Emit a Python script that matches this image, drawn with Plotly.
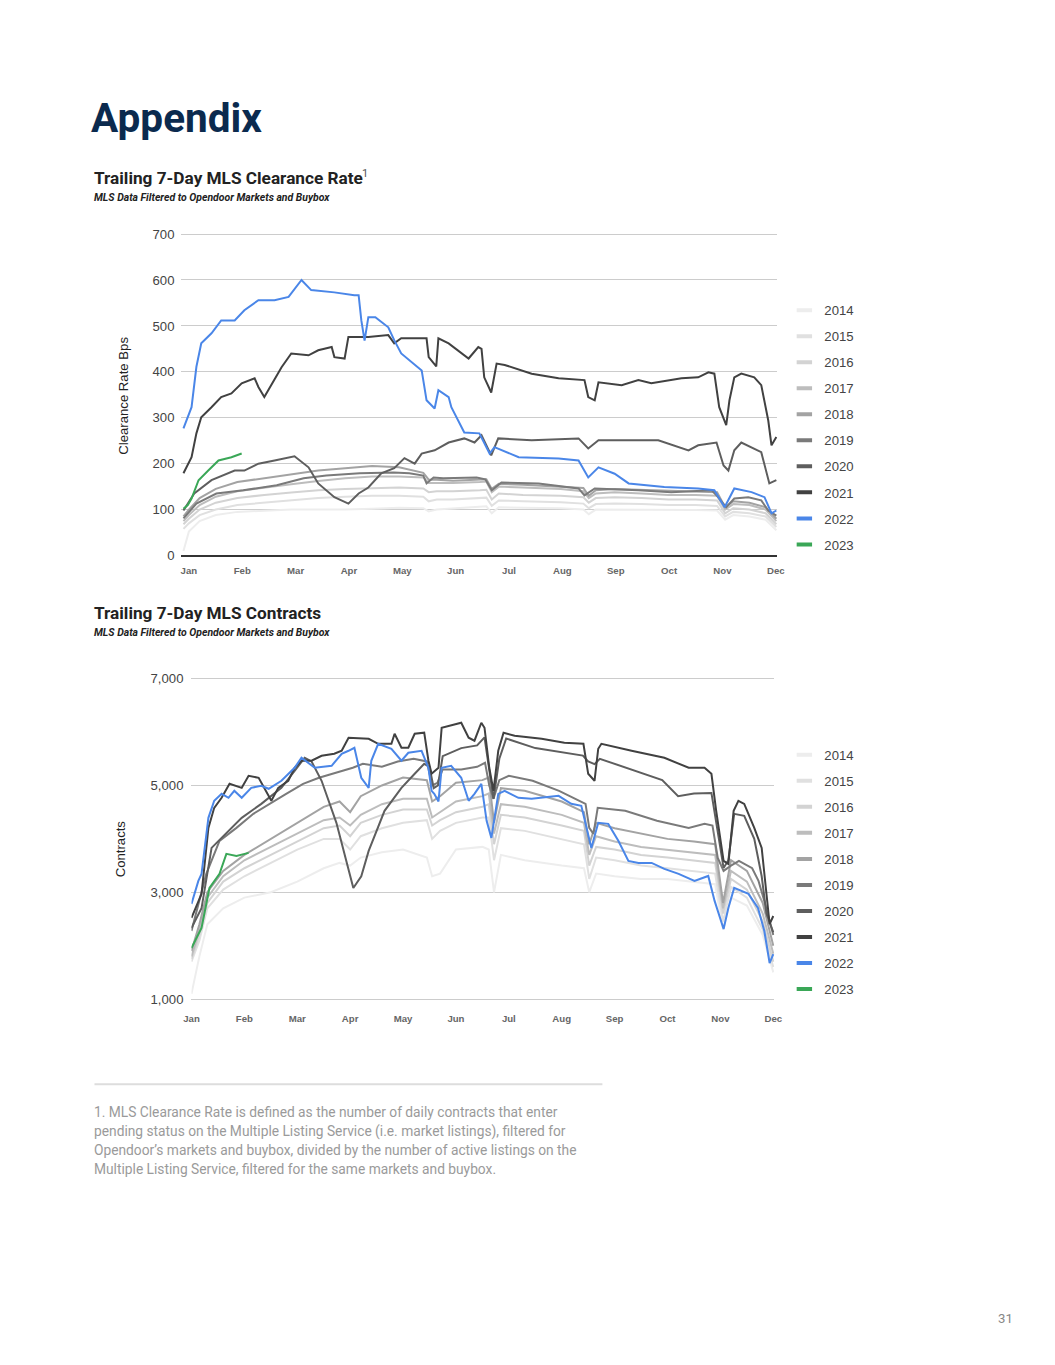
import plotly.graph_objects as go

W, H = 1055, 1365

YEARS = ["2014", "2015", "2016", "2017", "2018", "2019", "2020", "2021", "2022", "2023"]
COLORS = ["#ededed", "#e0e0e0", "#d3d3d3", "#bdbdbd", "#a3a3a3",
          "#7a7a7a", "#5e5e5e", "#414141", "#4a86e8", "#3aa757"]
MONTHS = ["Jan", "Feb", "Mar", "Apr", "May", "Jun", "Jul", "Aug", "Sep", "Oct", "Nov", "Dec"]

# ---------------- Clearance rate (bps), x = months since Jan 1 ----------------
CR_GREY_X = [0, 0.1, 0.3, 0.6, 1.0, 1.5, 2.0, 2.5, 3.0, 3.5, 4.0, 4.45, 4.55, 4.7, 5.0, 5.5, 5.62,
             5.72, 5.85, 6.3, 7.0, 7.42, 7.52, 7.65, 8.0, 8.5, 9.0, 9.5, 9.9, 10.05, 10.2, 10.5, 10.8, 11.0]
CR_2014 = [10, 52, 75, 88, 95, 98, 100, 100, 100, 102, 104, 103, 96, 100, 102, 106, 107,
           92, 105, 104, 103, 100, 90, 100, 100, 100, 99, 99, 98, 78, 88, 85, 78, 55]
CR_2015 = [58, 70, 88, 100, 110, 115, 120, 125, 128, 130, 130, 128, 118, 122, 122, 125, 126,
           108, 120, 118, 116, 113, 103, 112, 113, 112, 110, 110, 108, 85, 95, 92, 85, 62]
CR_2016 = [68, 80, 100, 115, 125, 132, 137, 142, 145, 147, 148, 146, 138, 140, 140, 142, 143,
           122, 135, 132, 130, 127, 115, 125, 127, 125, 122, 122, 120, 92, 103, 100, 92, 68]
CR_2017 = [75, 88, 110, 128, 140, 148, 155, 162, 168, 172, 172, 170, 158, 158, 158, 160, 161,
           138, 150, 148, 145, 140, 125, 135, 138, 135, 132, 132, 130, 100, 112, 110, 100, 75]
CR_2018 = [85, 100, 125, 145, 160, 168, 176, 185, 190, 195, 192, 180, 165, 165, 163, 165, 166,
           145, 156, 154, 150, 147, 130, 142, 145, 143, 141, 140, 138, 105, 118, 115, 105, 80]

CR_2019_X = [0, 0.24, 0.61, 1.11, 1.73, 2.23, 2.65, 3.27, 3.90, 4.19, 4.45, 4.51, 4.64, 4.82, 5.44, 5.6,
             5.72, 5.90, 6.59, 7.33, 7.44, 7.63, 8.44, 9.05, 9.80, 9.92, 10.07, 10.22, 10.48, 10.72, 10.85, 11.0]
CR_2019 = [81, 113, 135, 142, 153, 168, 174, 179, 181, 179, 174, 157, 170, 168, 170, 166,
           142, 159, 157, 146, 131, 146, 142, 138, 142, 127, 105, 124, 127, 120, 98, 87]

CR_2020_X = [0, 0.2, 0.52, 0.95, 1.13, 1.39, 1.69, 2.06, 2.32, 2.50, 2.80, 3.06, 3.25, 3.43, 3.67,
             3.91, 4.10, 4.29, 4.42, 4.66, 4.92, 5.21, 5.40, 5.53, 5.71, 5.84, 6.46, 7.33, 7.51, 7.70,
             8.81, 9.37, 9.55, 9.89, 10.02, 10.11, 10.22, 10.35, 10.72, 10.87, 11.0]
CR_2020 = [98, 135, 164, 185, 185, 200, 207, 216, 192, 157, 127, 113, 135, 148, 179,
           190, 212, 200, 222, 229, 246, 255, 246, 262, 218, 255, 251, 255, 233, 251,
           251, 229, 240, 246, 196, 185, 229, 246, 225, 157, 164]

CR_2021_X = [0, .15, .24, .33, .52, .70, .89, 1.08, 1.32, 1.39, 1.50, 1.69, 1.82, 2.00, 2.32,
             2.50, 2.75, 2.80, 2.99, 3.06, 3.43, 3.80, 3.91, 4.04, 4.51, 4.55, 4.69, 4.73, 4.92, 5.29,
             5.47, 5.53, 5.58, 5.71, 5.81, 5.96, 6.46, 6.96, 7.44, 7.51, 7.63, 7.70, 8.13, 8.44, 8.68,
             9.24, 9.55, 9.74, 9.85, 9.94, 10.07, 10.13, 10.22, 10.35, 10.59, 10.72, 10.85, 10.91, 11.0]
CR_2021 = [179, 214, 266, 301, 323, 345, 353, 375, 386, 367, 345, 382, 410, 440, 436,
           447, 454, 432, 429, 476, 476, 480, 462, 473, 473, 432, 412, 473, 462, 429,
           454, 450, 388, 355, 418, 415, 396, 386, 382, 345, 338, 377, 371, 382, 375,
           386, 388, 399, 396, 323, 284, 338, 388, 396, 388, 371, 294, 240, 258]

CR_2022_X = [0, .15, .24, .33, .52, .70, .95, 1.13, 1.39, 1.69, 1.95, 2.19, 2.37, 2.80, 3.17,
             3.25, 3.30, 3.36, 3.43, 3.56, 3.80, 3.91, 4.04, 4.42, 4.51, 4.66, 4.73, 4.92, 4.97, 5.21,
             5.49, 5.68, 5.77, 6.22, 6.96, 7.33, 7.51, 7.70, 8.00, 8.26, 8.92, 9.55, 9.85, 10.04, 10.22,
             10.54, 10.78, 10.91, 11.0]
CR_2022 = [277, 323, 411, 462, 484, 512, 512, 534, 556, 556, 563, 600, 578, 573, 567,
           567, 512, 468, 519, 519, 497, 469, 440, 403, 338, 320, 360, 345, 323, 268,
           266, 222, 236, 214, 211, 207, 170, 192, 178, 157, 149, 146, 142, 105, 146,
           138, 127, 92, 98]

CR_2023_X = [0, 0.08, 0.15, 0.28, 0.46, 0.65, 0.89, 1.08]
CR_2023 = [102, 110, 124, 164, 185, 207, 214, 222]

# ---------------- Contracts, x = months since Jan 1 ----------------
CT_GREY_X = [0, 0.15, 0.3, 0.6, 1.0, 1.5, 2.0, 2.5, 2.8, 3.0, 3.2, 3.6, 4.0, 4.45, 4.55, 4.7, 5.0,
             5.5, 5.62, 5.72, 5.85, 6.3, 7.0, 7.42, 7.52, 7.65, 8.0, 8.5, 9.0, 9.5, 9.9, 10.05,
             10.2, 10.5, 10.8, 11.0]
CT_2014 = [1100, 1800, 2400, 2700, 2900, 3000, 3200, 3450, 3550, 3500, 3650, 3750, 3800, 3650, 3300,
           3350, 3800, 3850, 3800, 3000, 3700, 3600, 3500, 3450, 3000, 3350, 3300, 3250, 3250, 3200,
           3150, 2300, 2900, 2750, 2200, 1500]
CT_2015 = [1700, 2100, 2700, 3050, 3300, 3550, 3800, 4000, 4000, 3800, 4050, 4200, 4300, 4350, 4000,
           4150, 4300, 4400, 4400, 3600, 4200, 4150, 4000, 3900, 3250, 3650, 3600, 3500, 3450, 3400,
           3350, 2450, 3100, 2900, 2300, 1600]
CT_2016 = [1750, 2200, 2800, 3200, 3450, 3700, 3950, 4200, 4250, 4050, 4300, 4450, 4550, 4550, 4250,
           4350, 4500, 4600, 4650, 3900, 4450, 4400, 4250, 4150, 3500, 3850, 3800, 3700, 3650, 3600,
           3550, 2600, 3250, 3050, 2450, 1700]
CT_2017 = [1800, 2300, 2900, 3300, 3600, 3850, 4100, 4350, 4400, 4250, 4450, 4650, 4750, 4750, 4400,
           4500, 4700, 4800, 4850, 4100, 4650, 4600, 4450, 4300, 3700, 4050, 3950, 3850, 3800, 3750,
           3700, 2700, 3400, 3200, 2600, 1850]
CT_2018 = [1900, 2400, 3000, 3400, 3700, 4000, 4300, 4600, 4700, 4500, 4800, 5000, 5150, 5100, 4700,
           4800, 5050, 5100, 5150, 4300, 4950, 4900, 4700, 4500, 3900, 4300, 4200, 4100, 4000, 3950,
           3900, 2800, 3600, 3400, 2800, 2000]

CT_2019_X = [0, 0.28, 0.53, 0.85, 1.17, 1.47, 1.79, 2.11, 2.41, 2.73, 3.05, 3.24, 3.6, 3.9, 4.2,
             4.45, 4.55, 4.65, 4.75, 5.1, 5.4, 5.55, 5.63, 5.71, 5.82, 6.0, 6.45, 6.95, 7.45, 7.52,
             7.6, 7.68, 8.2, 8.8, 9.4, 9.7, 9.85, 9.95, 10.06, 10.2, 10.35, 10.6, 10.72, 10.83, 11.0]
CT_2019 = [2275, 3344, 3963, 4206, 4469, 4656, 4844, 5031, 5144, 5238, 5331, 5406, 5350, 5450, 5500,
           5450, 5000, 5050, 5300, 5300, 5350, 5425, 5000, 4750, 5100, 5181, 5088, 4900, 4656, 4206,
           4094, 4581, 4525, 4338, 4206, 4281, 4250, 3644, 3400, 3500, 3588, 3450, 3213, 2838, 2200]

CT_2020_X = [0, 0.19, 0.38, 0.51, 0.95, 1.32, 1.70, 1.95, 2.14, 2.27, 2.46, 2.74, 3.06, 3.21, 3.35,
             3.65, 3.97, 4.22, 4.40, 4.50, 4.58, 4.66, 4.75, 5.1, 5.4, 5.54, 5.63, 5.71, 5.82, 5.95,
             6.5, 7.0, 7.4, 7.5, 7.62, 7.72, 8.3, 8.9, 9.2, 9.5, 9.83, 9.92, 10.06, 10.15, 10.26,
             10.45, 10.64, 10.78, 10.87, 11.0]
CT_2020 = [2331, 2700, 3831, 3963, 4394, 4656, 4956, 5275, 5519, 5450, 5088, 4300, 3081, 3300, 3775,
           4525, 4956, 5219, 5406, 5350, 4950, 5000, 5550, 5700, 5750, 5900, 5300, 4750, 5500, 5880,
           5700, 5620, 5560, 5450, 5400, 5500, 5300, 5100, 4800, 4850, 4860, 4300, 3456, 3600, 4469,
           4431, 4000, 3300, 2600, 2250]

CT_2021_X = [0, .19, .32, .43, .57, .72, .95, 1.08, 1.27, 1.38, 1.51, 1.64, 1.83, 1.95, 2.08,
             2.27, 2.46, 2.70, 2.84, 2.97, 3.35, 3.53, 3.78, 3.84, 3.97, 4.10, 4.22, 4.40, 4.48, 4.54,
             4.67, 4.73, 5.10, 5.24, 5.35, 5.48, 5.54, 5.63, 5.71, 5.80, 5.90, 6.11, 6.62, 7.05, 7.41,
             7.50, 7.62, 7.69, 7.75, 8.32, 8.94, 9.40, 9.70, 9.83, 9.92, 10.06, 10.15, 10.25, 10.34,
             10.45, 10.64, 10.78, 10.87, 10.93, 11.0]
CT_2021 = [2519, 2969, 4206, 4581, 4769, 5031, 4956, 5181, 5144, 4938, 4713, 4956, 5088, 5331, 5463,
           5463, 5556, 5594, 5650, 5894, 5875, 5781, 5781, 5969, 5706, 5706, 5969, 5988, 5463, 5219,
           5331, 6081, 6175, 5894, 5838, 6175, 6081, 5331, 4900, 5650, 5988, 5931, 5875, 5800, 5781,
           5219, 5088, 5688, 5781, 5650, 5519, 5331, 5331, 5219, 4525, 3588, 3531, 4525, 4713,
           4656, 4206, 3831, 2969, 2406, 2556]

CT_2022_X = [0, .13, .19, .32, .43, .57, .70, .81, .95, 1.13, 1.32, 1.46, 1.70, 1.95, 2.08,
             2.33, 2.65, 2.84, 2.97, 3.08, 3.21, 3.35, 3.40, 3.53, 3.78, 3.97, 4.10, 4.35, 4.48, 4.54,
             4.59, 4.67, 4.73, 4.91, 5.10, 5.24, 5.35, 5.48, 5.58, 5.67, 5.80, 5.92, 6.18, 6.43, 6.94,
             7.18, 7.37, 7.50, 7.56, 7.69, 7.88, 8.07, 8.26, 8.45, 8.70, 8.94, 9.21, 9.51, 9.77, 9.89,
             10.06, 10.15, 10.26, 10.53, 10.71, 10.83, 10.93, 11.0]
CT_2022 = [2781, 3213, 3344, 4394, 4713, 4844, 4769, 4900, 4769, 4956, 4994, 4938, 5088, 5331, 5519,
           5331, 5369, 5594, 5650, 5706, 5144, 4956, 5463, 5781, 5688, 5463, 5613, 5650, 5331, 4900,
           4844, 4700, 5331, 5369, 5144, 4713, 4844, 5031, 4338, 4019, 4844, 4900, 4769, 4750, 4806,
           4656, 4619, 4094, 3831, 4300, 4281, 3963, 3588, 3550, 3550, 3438, 3344, 3213, 3306, 2838,
           2313, 2706, 3081, 2969, 2706, 2275, 1675, 1844]

CT_2023_X = [0, 0.1, 0.19, 0.34, 0.53, 0.66, 0.85, 1.08]
CT_2023 = [1956, 2150, 2331, 3081, 3344, 3719, 3681, 3738]

FOOTNOTE = [
    "1. MLS Clearance Rate is defined as the number of daily contracts that enter",
    "pending status on the Multiple Listing Service (i.e. market listings), filtered for",
    "Opendoor\u2019s markets and buybox, divided by the number of active listings on the",
    "Multiple Listing Service, filtered for the same markets and buybox.",
]

CR_SERIES = [(CR_GREY_X, CR_2014), (CR_GREY_X, CR_2015), (CR_GREY_X, CR_2016), (CR_GREY_X, CR_2017),
             (CR_GREY_X, CR_2018), (CR_2019_X, CR_2019), (CR_2020_X, CR_2020), (CR_2021_X, CR_2021),
             (CR_2022_X, CR_2022), (CR_2023_X, CR_2023)]
CT_SERIES = [(CT_GREY_X, CT_2014), (CT_GREY_X, CT_2015), (CT_GREY_X, CT_2016), (CT_GREY_X, CT_2017),
             (CT_GREY_X, CT_2018), (CT_2019_X, CT_2019), (CT_2020_X, CT_2020), (CT_2021_X, CT_2021),
             (CT_2022_X, CT_2022), (CT_2023_X, CT_2023)]

# page-pixel -> paper helpers (compensating the viewer's small scale/offset)
SX, SY, OFFX, OFFY = 0.985, 0.9892, 14.5, 13.2
K = 1 / 0.987  # font compensation


def fy(py):
    return 1 - ((py - OFFY) / SY) / H


def fx(px):
    return ((px - OFFX) / SX) / W


def fs(s):
    return round(s * K, 2)


ARIAL = "Liberation Sans, Arial, sans-serif"
ROBOTO = "Roboto, sans-serif"

fig = go.Figure()

for (xs, ys), yr, col in zip(CR_SERIES, YEARS, COLORS):
    fig.add_trace(go.Scatter(x=xs, y=ys, mode="lines", line=dict(color=col, width=2),
                             showlegend=False, xaxis="x", yaxis="y", hoverinfo="skip"))
for (xs, ys), yr, col in zip(CT_SERIES, YEARS, COLORS):
    fig.add_trace(go.Scatter(x=xs, y=ys, mode="lines", line=dict(color=col, width=2),
                             showlegend=False, xaxis="x2", yaxis="y2", hoverinfo="skip"))

# legend entries (short thick swatches)
for lg, ax, ay in (("legend", "x", "y"), ("legend2", "x2", "y2")):
    for yr, col in zip(YEARS, COLORS):
        fig.add_trace(go.Scatter(x=[None], y=[None], mode="markers", name=yr,
                                 marker=dict(symbol="line-ew", size=11, color=col,
                                             line=dict(color=col, width=4)),
                                 legend=lg, legendgroup=lg + yr, xaxis=ax, yaxis=ay))

legend_common = dict(font=dict(family=ARIAL, size=fs(13), color="#444"), bgcolor="rgba(0,0,0,0)",
                     borderwidth=0, traceorder="grouped", tracegroupgap=5.9, itemwidth=30,
                     xanchor="left", yanchor="top", orientation="v")

# top chart: 0 at y=555px, 0.4586 px per bps; bottom: 1000 at y=998px, 0.05333 px per contract
fig.update_layout(
    width=W, height=H, margin=dict(l=0, r=0, t=0, b=0),
    paper_bgcolor="white", plot_bgcolor="white",
    showlegend=True,
    legend=dict(x=fx(783), y=fy(295), **legend_common),
    legend2=dict(x=fx(783), y=fy(739), **legend_common),
    xaxis=dict(domain=[fx(180), fx(776)], range=[-0.037, 11.019], anchor="y",
               tickvals=[i + 0.1 - 0.01 * i for i in range(12)], ticktext=MONTHS,
               tickfont=dict(family=ARIAL, size=fs(9.5), color="#666", weight="bold"),
               showgrid=False, zeroline=False, showline=True, linecolor="#333", linewidth=1.5,
               ticks="", ticklabelstandoff=5, fixedrange=True),
    yaxis=dict(domain=[fy(555), fy(555 - 706 * 0.4586)], range=[0, 706], anchor="x",
               tickvals=[0, 100, 200, 300, 400, 500, 600, 700],
               tickfont=dict(family=ARIAL, size=fs(13), color="#444"),
               showgrid=True, gridcolor="#cccccc", gridwidth=1, zeroline=False, showline=False,
               ticks="", ticklabelstandoff=6, fixedrange=True),
    xaxis2=dict(domain=[fx(190), fx(773)], range=[0, 11.02], anchor="y2",
                tickvals=list(range(12)), ticktext=MONTHS,
                tickfont=dict(family=ARIAL, size=fs(9.5), color="#666", weight="bold"),
                showgrid=False, zeroline=False, showline=False,
                ticks="", ticklabelstandoff=10, fixedrange=True),
    yaxis2=dict(domain=[fy(998 + 40 * 0.05333), fy(998 - 6080 * 0.05333)], range=[960, 7080], anchor="x2",
                tickvals=[1000, 3000, 5000, 7000], tickformat=",",
                tickfont=dict(family=ARIAL, size=fs(13), color="#444"),
                showgrid=True, gridcolor="#cccccc", gridwidth=1, zeroline=False, showline=False,
                ticks="", ticklabelstandoff=7, fixedrange=True),
)

ann = []


def text(x, y, s, size, color, family=ROBOTO, xanchor="left", **kw):
    ann.append(dict(x=fx(x), y=fy(y), xref="paper", yref="paper", text=s, showarrow=False,
                    xanchor=xanchor, yanchor="middle",
                    font=dict(family=family, size=fs(size), color=color), **kw))


text(88, 118, "<b>Appendix</b>", 40, "#0b2a4e")
text(91, 178, "<b>Trailing 7-Day MLS Clearance Rate</b>", 17, "#222222")
text(359, 173, "1", 11, "#555555")
text(91, 197, "<b><i>MLS Data Filtered to Opendoor Markets and Buybox</i></b>", 10.3, "#222222")
text(91, 612, "<b>Trailing 7-Day MLS Contracts</b>", 17, "#222222")
text(91, 632, "<b><i>MLS Data Filtered to Opendoor Markets and Buybox</i></b>", 10.3, "#222222")
text(122, 395, "Clearance Rate Bps", 13, "#222222", family=ARIAL, xanchor="center", textangle=-90)
text(119, 848, "Contracts", 13, "#222222", family=ARIAL, xanchor="center", textangle=-90)
for i, line in enumerate(FOOTNOTE):
    text(91, 1111 + 19 * i, line, 13.6, "#9a9a9a")
text(1004, 1317, "31", 13, "#888888", xanchor="center")

fig.update_layout(annotations=ann)
fig.add_shape(type="line", xref="paper", yref="paper", x0=fx(93), x1=fx(601), y0=fy(1083), y1=fy(1083),
              line=dict(color="#dddddd", width=2))

fig.write_html("out.html")
